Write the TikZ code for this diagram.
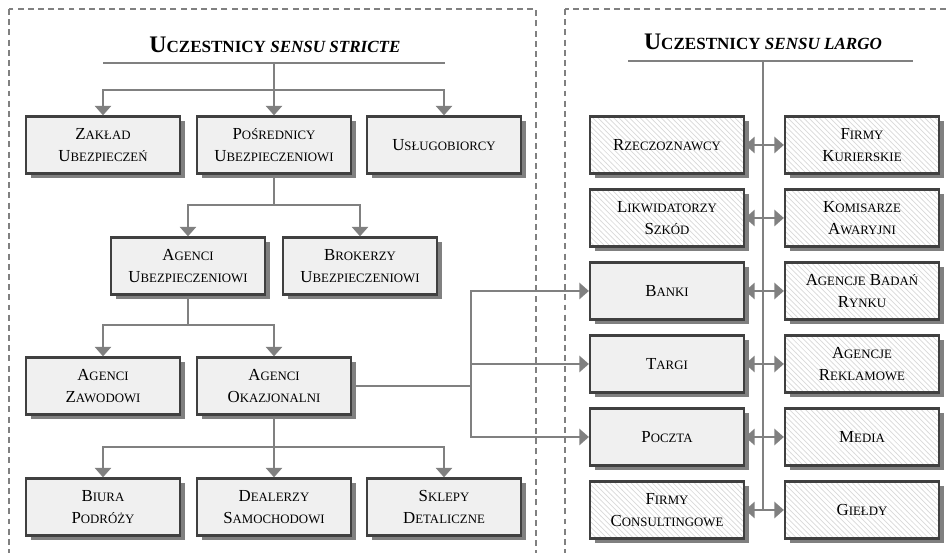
\documentclass[tikz,border=0pt]{standalone}
\usepackage{fontspec}
\setmainfont{Liberation Serif}
\usetikzlibrary{arrows, arrows.meta}
\usetikzlibrary{shadows, patterns}

% small caps by hand
\newcommand{\kap}[1]{\kapx#1\relax}
\def\kapx#1#2\relax{#1{\fontsize{7.3}{13}\selectfont\MakeUppercase{#2}}}

\begin{document}
\begin{tikzpicture}[x=0.02cm, y=-0.02cm,
  box/.style={draw=black!75, line width=1.3pt, fill=black!6, minimum width=3.08cm, minimum height=1.14cm, inner sep=1pt, align=center, font=\fontsize{9.6}{13}\selectfont, drop shadow={shadow xshift=2.6pt, shadow yshift=-2.6pt, opacity=1, fill=black!50}},
  hbox/.style={box, fill=white, path picture={\fill[pattern=north west lines, pattern color=black!15] (path picture bounding box.south west) rectangle (path picture bounding box.north east);}},
  conn/.style={draw=black!50, line width=1.2pt},
  frame/.style={draw=black!50, line width=0.8pt, dash pattern=on 3.4pt off 2.4pt},
  ttl/.style={font=\fontsize{13.5}{15}\bfseries\selectfont},
  >={Triangle[length=5.4pt, width=9.2pt]}]
\useasboundingbox (0,0) rectangle (950,553);
\begin{scope}
\clip (0,0) rectangle (950,553);
\draw[frame] (9,9) rectangle (536,600);
\draw[frame] (565,9) rectangle (1000,600);
\end{scope}

% sensu stricte
\node[ttl] (tl) at (275,45) {U{\fontsize{9.7}{15}\selectfont CZESTNICY \itshape SENSU STRICTE}};
\coordinate (tlw) at (103,63);
\coordinate (tle) at (445,63);
\coordinate (tlb) at (274,63);
\draw[conn] (tlw) -- (tle);

\node[box] (zu) at (103,145) {\kap{Zakład}\\\kap{Ubezpieczeń}};
\node[box] (pu) at (274,145) {\kap{Pośrednicy}\\\kap{Ubezpieczeniowi}};
\node[box] (us) at (444,145) {\kap{Usługobiorcy}};
\node[box] (au) at (188,266) {\kap{Agenci}\\\kap{Ubezpieczeniowi}};
\node[box] (bu) at (360,266) {\kap{Brokerzy}\\\kap{Ubezpieczeniowi}};
\node[box] (az) at (103,386) {\kap{Agenci}\\\kap{Zawodowi}};
\node[box] (ao) at (274,386) {\kap{Agenci}\\\kap{Okazjonalni}};
\node[box] (bp) at (103,507) {\kap{Biura}\\\kap{Podróży}};
\node[box] (ds) at (274,507) {\kap{Dealerzy}\\\kap{Samochodowi}};
\node[box] (sd) at (444,507) {\kap{Sklepy}\\\kap{Detaliczne}};

\coordinate (s1) at (274,90);
\coordinate (s2) at (274,205);
\coordinate (s3) at (188,325);
\coordinate (s4) at (274,447);
\coordinate (s5) at (471,386);

\draw[conn] (tlb) -- (s1);
\draw[conn,->] (s1) -| (zu);
\draw[conn,->] (s1) -- (pu);
\draw[conn,->] (s1) -| (us);
\draw[conn] (pu) -- (s2);
\draw[conn,->] (s2) -| (au);
\draw[conn,->] (s2) -| (bu);
\draw[conn] (au) -- (s3);
\draw[conn,->] (s3) -| (az);
\draw[conn,->] (s3) -| (ao);
\draw[conn] (ao) -- (s4);
\draw[conn,->] (s4) -| (bp);
\draw[conn,->] (s4) -- (ds);
\draw[conn,->] (s4) -| (sd);

% sensu largo
\node[ttl] (tr) at (763,42) {U{\fontsize{9.7}{15}\selectfont CZESTNICY \itshape SENSU LARGO}};
\coordinate (trw) at (628,61);
\coordinate (tre) at (913,61);
\coordinate (trb) at (763,61);
\coordinate (s6) at (763,510);
\draw[conn] (trw) -- (tre);
\draw[conn] (trb) -- (s6);

\node[hbox] (rz) at (667,145) {\kap{Rzeczoznawcy}};
\node[hbox] (fk) at (862,145) {\kap{Firmy}\\\kap{Kurierskie}};
\node[hbox] (ls) at (667,218) {\kap{Likwidatorzy}\\\kap{Szkód}};
\node[hbox] (ka) at (862,218) {\kap{Komisarze}\\\kap{Awaryjni}};
\node[box] (ba) at (667,291) {\kap{Banki}};
\node[hbox] (ab) at (862,291) {\kap{Agencje} \kap{Badań}\\\kap{Rynku}};
\node[box] (ta) at (667,364) {\kap{Targi}};
\node[hbox] (ar) at (862,364) {\kap{Agencje}\\\kap{Reklamowe}};
\node[box] (po) at (667,437) {\kap{Poczta}};
\node[hbox] (me) at (862,437) {\kap{Media}};
\node[hbox] (fc) at (667,510) {\kap{Firmy}\\\kap{Consultingowe}};
\node[hbox] (gi) at (862,510) {\kap{Giełdy}};

\foreach \a/\b in {rz/fk, ls/ka, ba/ab, ta/ar, po/me, fc/gi}
  \draw[conn,<->] (\a) -- (\b);

\draw[conn] (ao) -- (s5);
\draw[conn,->] (s5) |- (ba);
\draw[conn,->] (s5) |- (ta);
\draw[conn,->] (s5) |- (po);
\end{tikzpicture}
\end{document}
